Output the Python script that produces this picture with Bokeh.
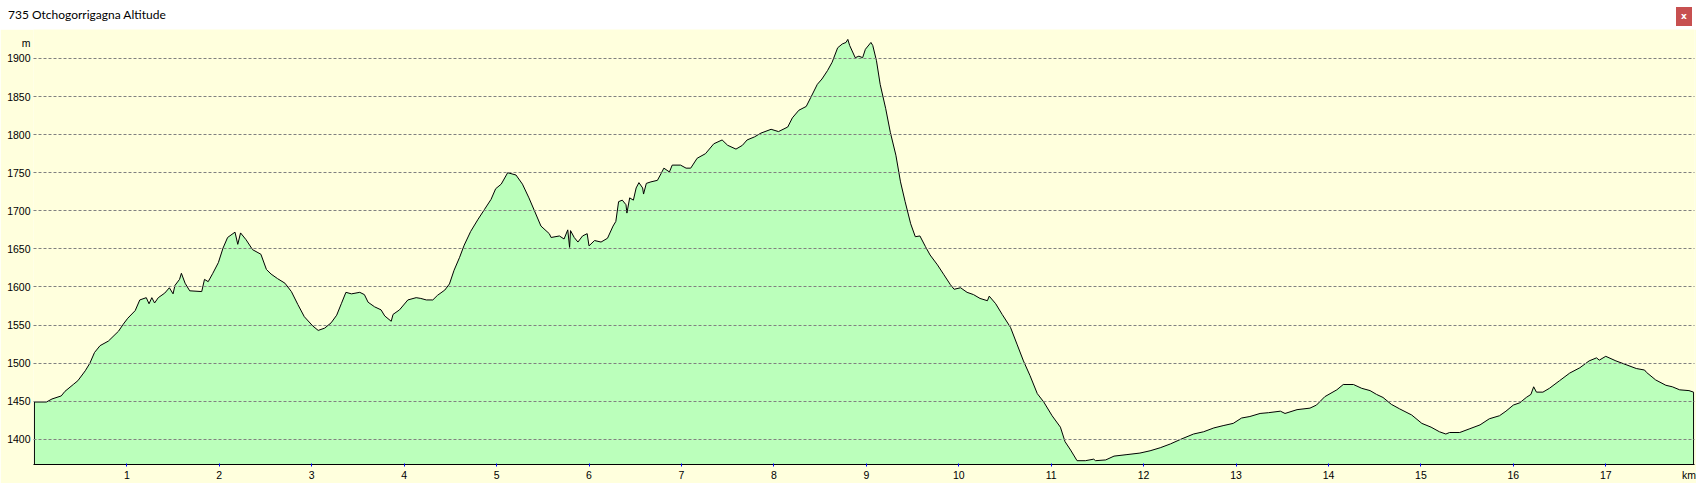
from bokeh.plotting import figure
from bokeh.models import Range1d, FixedTicker, Div
from bokeh.layouts import column
from bokeh.embed import file_html
from bokeh.resources import INLINE

TITLE = "735 Otchogorrigagna Altitude"

km = [0.00, 0.13, 0.19, 0.29, 0.33, 0.42, 0.47, 0.55, 0.60, 0.65, 0.71, 0.80, 0.91, 0.96,
      1.01, 1.09, 1.14, 1.21, 1.24, 1.27, 1.30, 1.34, 1.41, 1.46, 1.50, 1.52, 1.57, 1.59,
      1.63, 1.68, 1.81, 1.84, 1.88, 1.93, 1.99, 2.04, 2.09, 2.17, 2.20, 2.23, 2.29, 2.36,
      2.45, 2.51, 2.56, 2.63, 2.71, 2.78, 2.85, 2.92, 3.01, 3.07, 3.14, 3.21, 3.27, 3.32,
      3.37, 3.43, 3.52, 3.57, 3.61, 3.68, 3.75, 3.79, 3.86, 3.88, 3.95, 4.04, 4.13, 4.18,
      4.24, 4.31, 4.36, 4.44, 4.49, 4.54, 4.60, 4.65, 4.72, 4.80, 4.87, 4.94, 4.99, 5.05,
      5.12, 5.21, 5.28, 5.35, 5.41, 5.48, 5.57, 5.59, 5.68, 5.73, 5.77, 5.79, 5.80, 5.84,
      5.88, 5.93, 5.98, 6.00, 6.06, 6.13, 6.20, 6.26, 6.29, 6.32, 6.36, 6.40, 6.41, 6.44,
      6.48, 6.51, 6.54, 6.58, 6.59, 6.62, 6.67, 6.74, 6.78, 6.81, 6.87, 6.90, 6.99, 7.05,
      7.10, 7.17, 7.26, 7.35, 7.44, 7.50, 7.59, 7.66, 7.71, 7.79, 7.86, 7.97, 8.05, 8.15,
      8.20, 8.27, 8.35, 8.40, 8.47, 8.52, 8.58, 8.63, 8.69, 8.74, 8.78, 8.80, 8.82, 8.88,
      8.92, 8.96, 8.99, 9.05, 9.07, 9.11, 9.15, 9.21, 9.26, 9.32, 9.37, 9.42, 9.48, 9.53,
      9.58, 9.64, 9.69, 9.77, 9.84, 9.91, 9.95, 10.02, 10.09, 10.16, 10.23, 10.31, 10.33,
      10.40, 10.47, 10.56, 10.63, 10.70, 10.77, 10.85, 10.92, 11.01, 11.10, 11.15, 11.21,
      11.28, 11.37, 11.46, 11.48, 11.59, 11.68, 11.82, 11.96, 12.07, 12.18, 12.29, 12.40,
      12.54, 12.65, 12.76, 12.86, 12.97, 13.06, 13.15, 13.26, 13.35, 13.48, 13.53, 13.66,
      13.80, 13.87, 13.96, 14.09, 14.16, 14.27, 14.36, 14.45, 14.52, 14.59, 14.68, 14.77,
      14.90, 15.01, 15.11, 15.20, 15.27, 15.31, 15.42, 15.53, 15.64, 15.74, 15.85, 15.92,
      16.00, 16.07, 16.14, 16.19, 16.22, 16.25, 16.32, 16.39, 16.50, 16.61, 16.72, 16.82,
      16.90, 16.93, 17.00, 17.11, 17.22, 17.33, 17.42, 17.44, 17.54, 17.65, 17.72, 17.80,
      17.90, 17.95]

altitude = [1449, 1449, 1453, 1457, 1463, 1472, 1477, 1490, 1500, 1514, 1523, 1529, 1542, 1551,
            1559, 1569, 1583, 1586, 1578, 1586, 1579, 1586, 1592, 1599, 1591, 1602, 1610, 1618,
            1605, 1595, 1594, 1610, 1607, 1618, 1632, 1651, 1665, 1672, 1656, 1671, 1662, 1649,
            1643, 1623, 1617, 1611, 1605, 1594, 1577, 1561, 1549, 1543, 1546, 1553, 1563, 1578,
            1593, 1591, 1593, 1590, 1580, 1574, 1570, 1562, 1555, 1564, 1570, 1583, 1586, 1585,
            1583, 1583, 1589, 1596, 1604, 1622, 1639, 1655, 1673, 1689, 1702, 1715, 1729, 1735,
            1750, 1747, 1735, 1717, 1700, 1680, 1670, 1665, 1667, 1663, 1675, 1652, 1674, 1665,
            1659, 1667, 1670, 1654, 1661, 1659, 1664, 1680, 1686, 1712, 1714, 1708, 1697, 1717,
            1714, 1730, 1737, 1730, 1722, 1736, 1738, 1740, 1749, 1756, 1751, 1760, 1760, 1756,
            1756, 1769, 1775, 1788, 1793, 1786, 1781, 1786, 1793, 1797, 1802, 1807, 1804, 1810,
            1822, 1832, 1837, 1849, 1866, 1873, 1884, 1895, 1914, 1919, 1921, 1925, 1917, 1901,
            1903, 1901, 1912, 1921, 1917, 1897, 1866, 1834, 1803, 1773, 1738, 1712, 1683, 1666,
            1667, 1653, 1642, 1629, 1616, 1603, 1597, 1599, 1593, 1590, 1585, 1582, 1588,
            1578, 1564, 1547, 1525, 1503, 1484, 1460, 1449, 1431, 1416, 1397, 1386,
            1372, 1372, 1374, 1372, 1373, 1378, 1380, 1382, 1385, 1389, 1394, 1400,
            1407, 1410, 1415, 1418, 1421, 1428, 1430, 1434, 1435, 1437, 1434, 1439,
            1441, 1445, 1456, 1465, 1472, 1472, 1467, 1464, 1459, 1455, 1446, 1440,
            1432, 1421, 1416, 1410, 1407, 1409, 1409, 1414, 1419, 1427, 1431, 1437,
            1445, 1448, 1455, 1459, 1469, 1462, 1462, 1467, 1477, 1487, 1494, 1503,
            1507, 1504, 1509, 1503, 1498, 1493, 1491, 1488, 1478, 1471, 1469, 1465,
            1464, 1462]

y_ticks = [1400, 1450, 1500, 1550, 1600, 1650, 1700, 1750, 1800, 1850, 1900]
x_ticks = list(range(1, 18))
Y_UNIT_POS = 1920      # where the "m" unit label sits on the y axis
X_UNIT_POS = 17.90     # where the "km" unit label sits on the x axis
Y_MIN, Y_MAX = 1367, 1938

YELLOW = "#FFFFDD"
GREEN = "#BBFFBB"
W = 1696
TITLE_H = 29

p = figure(width=W, height=483 - TITLE_H, output_backend="svg", toolbar_location=None,
           x_range=Range1d(km[0] - 0.01, km[-1] + 0.01), y_range=Range1d(Y_MIN, Y_MAX),
           min_border_left=33, min_border_right=2, min_border_top=0, min_border_bottom=16,
           background_fill_color=YELLOW, border_fill_color=YELLOW, outline_line_color=None,
           margin=0)

xs = [km[0]] + km + [km[-1]]
ys = [Y_MIN] + altitude + [Y_MIN]
p.patch(xs, ys, fill_color=GREEN, line_color="black", line_width=1)

p.xgrid.visible = False
p.ygrid.ticker = FixedTicker(ticks=y_ticks)
p.ygrid.grid_line_color = "#808080"
p.ygrid.grid_line_dash = "3 2"
p.ygrid.level = "overlay"

p.yaxis.ticker = FixedTicker(ticks=y_ticks + [Y_UNIT_POS])
p.yaxis.major_label_overrides = {Y_UNIT_POS: "m"}
p.yaxis.axis_line_color = None
p.yaxis.major_tick_line_color = None
p.yaxis.major_tick_in = 0
p.yaxis.major_tick_out = 0
p.yaxis.minor_tick_line_color = None
p.yaxis.minor_tick_out = 0
p.yaxis.major_label_standoff = 3
p.yaxis.major_label_text_font = "Liberation Sans"
p.yaxis.major_label_text_font_size = "10.5px"
p.yaxis.major_label_text_color = "#000000"

# labels on the major ticks (incl. the unit), blue tick marks on the km positions only
p.xaxis.ticker = FixedTicker(ticks=x_ticks + [X_UNIT_POS], minor_ticks=x_ticks)
p.xaxis.major_label_overrides = {X_UNIT_POS: "km"}
p.xaxis.axis_line_color = "black"
p.xaxis.major_tick_line_color = None
p.xaxis.major_tick_in = 0
p.xaxis.major_tick_out = 2
p.xaxis.minor_tick_line_color = "#0000FF"
p.xaxis.minor_tick_in = 1
p.xaxis.minor_tick_out = 2
p.xaxis.major_label_standoff = 2
p.xaxis.major_label_text_font = "Liberation Sans"
p.xaxis.major_label_text_font_size = "10.5px"
p.xaxis.major_label_text_color = "#000000"

title_html = (
    '<div style="position:relative;width:' + str(W) + 'px;height:' + str(TITLE_H) +
    'px;background:#ffffff;">'
    '<span style="position:absolute;left:8px;top:8px;font-family:Lato;font-size:12px;'
    'line-height:14px;color:#000000;white-space:nowrap;">' + TITLE + '</span>'
    '<span style="position:absolute;left:1676px;top:7px;width:16px;height:19px;'
    'background:#C75050;color:#ffffff;font-family:\'DejaVu Sans\';font-size:9px;'
    'font-weight:bold;line-height:19px;text-align:center;">x</span></div>'
)
div = Div(text=title_html, width=W, height=TITLE_H, margin=0)

layout = column(div, p, spacing=0)
open("out.html", "w").write(file_html(layout, INLINE))
